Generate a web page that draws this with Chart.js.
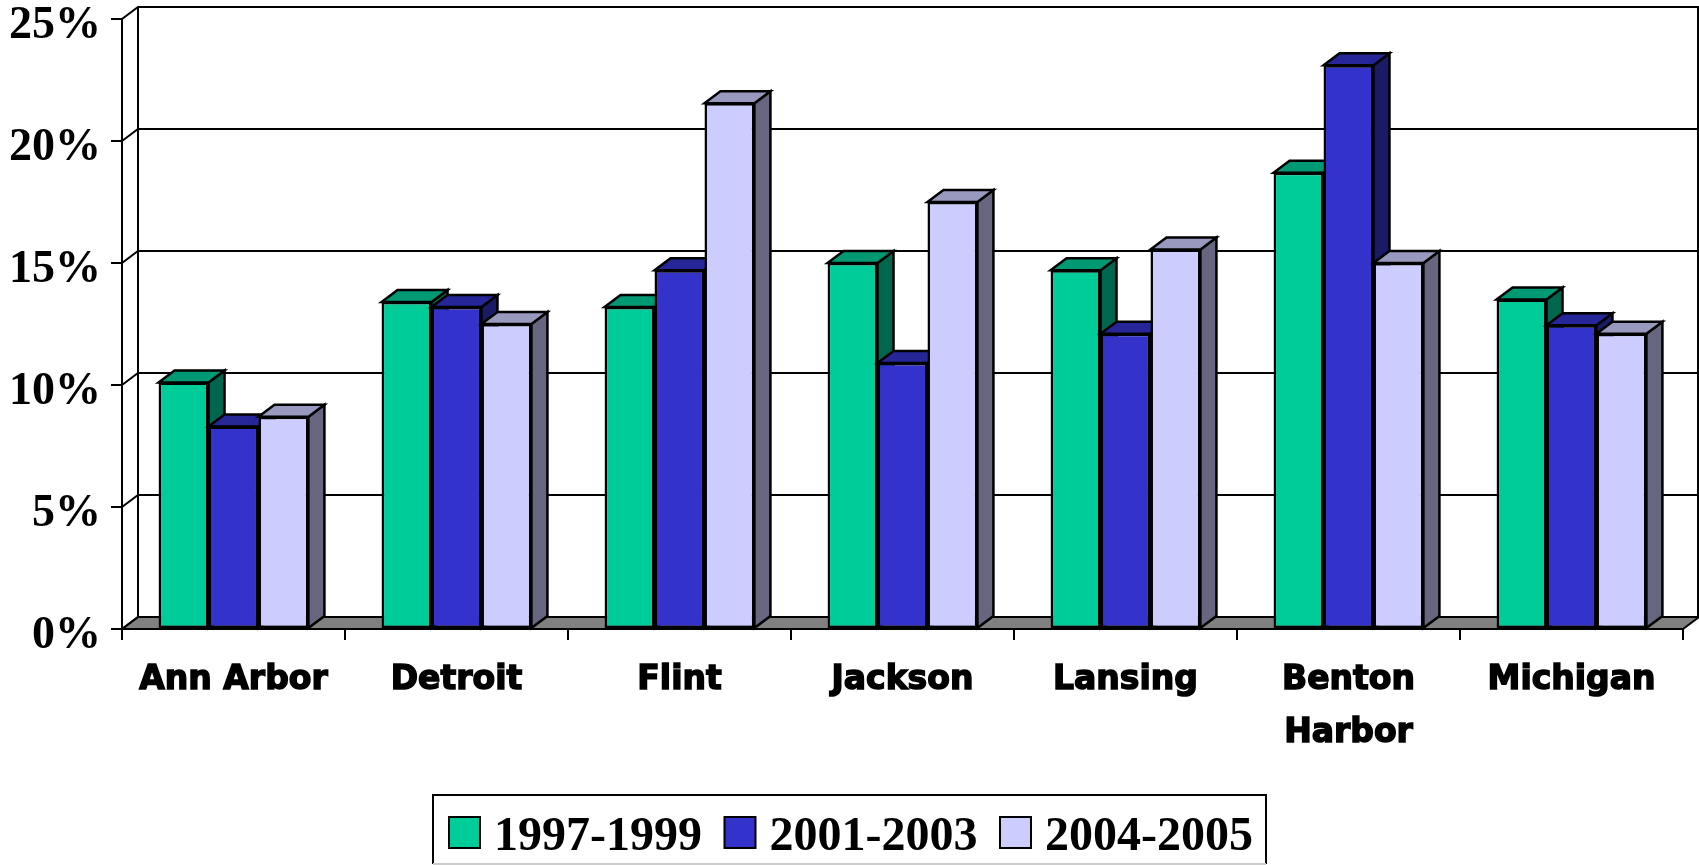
<!DOCTYPE html>
<html>
<head>
<meta charset="utf-8">
<title>Chart</title>
<script src="https://cdn.jsdelivr.net/npm/chart.js@4"></script>
<style>
    html, body { margin: 0; padding: 0; background: #fff; overflow: hidden; }
    canvas { display: block; }
</style>
</head>
<body>
<canvas id="chart" width="1699" height="865"></canvas>
<script>
let categories = ['Ann Arbor', 'Detroit', 'Flint', 'Jackson', 'Lansing', ['Benton', 'Harbor'], 'Michigan'];
let seriesNames = ['1997-1999', '2001-2003', '2004-2005'];
let values1997 = [10.1, 13.4, 13.2, 15.0, 14.7, 18.7, 13.5];
let values2001 = [8.3, 13.2, 14.7, 10.9, 12.1, 23.1, 12.45];
let values2004 = [8.7, 12.5, 21.55, 17.5, 15.55, 15.0, 12.1];
let frontColors = ['#00CC99', '#3333CC', '#CCCCFF'];
let topColors = ['#009973', '#262699', '#9999BF'];
let sideColors = ['#00664D', '#1A1A66', '#666680'];

// how far the back wall sits behind the front plane
let depthX = 16;
let depthY = 12;

function face(ctx, points, fill) {
    ctx.beginPath();
    ctx.moveTo(points[0][0], points[0][1]);
    for (let i = 1; i < points.length; i++) {
        ctx.lineTo(points[i][0], points[i][1]);
    }
    ctx.closePath();
    if (fill) {
        ctx.fillStyle = fill;
        ctx.fill();
    }
    ctx.stroke();
}

let wallPlugin = {
    id: 'wall',
    beforeDraw(chart) {
        let ctx = chart.ctx;
        let area = chart.chartArea;
        let yScale = chart.scales.y;
        ctx.save();
        ctx.strokeStyle = '#000';
        ctx.lineWidth = 2;
        ctx.lineJoin = 'miter';
        // floor
        face(ctx, [[area.left, area.bottom], [area.left + depthX, area.bottom - depthY],
            [area.right + depthX, area.bottom - depthY], [area.right, area.bottom]], '#808080');
        // grid lines on the back wall + the small diagonals on the left wall
        yScale.ticks.forEach(function (tick) {
            let y = yScale.getPixelForValue(tick.value);
            ctx.beginPath();
            ctx.moveTo(area.left, y);
            ctx.lineTo(area.left + depthX, y - depthY);
            ctx.lineTo(area.right + depthX, y - depthY);
            ctx.stroke();
        });
        ctx.beginPath();
        ctx.moveTo(area.left + depthX, area.bottom - depthY);
        ctx.lineTo(area.left + depthX, area.top - depthY);
        ctx.moveTo(area.right + depthX - 1, area.bottom - depthY);
        ctx.lineTo(area.right + depthX - 1, area.top - depthY);
        ctx.stroke();
        ctx.restore();
    }
};

let boxesPlugin = {
    id: 'boxes',
    // datasets are painted left to right below, so the default (reversed) pass is skipped
    beforeDatasetDraw() {
        return false;
    },
    afterDatasetsDraw(chart) {
        let ctx = chart.ctx;
        chart.data.datasets.forEach(function (dataset, d) {
            chart.getDatasetMeta(d).data.forEach(function (bar) {
                let left = bar.x - bar.width / 2;
                let right = bar.x + bar.width / 2;
                ctx.save();
                ctx.strokeStyle = '#000';
                ctx.lineWidth = 2.5;
                face(ctx, [[right, bar.y], [right + depthX, bar.y - depthY],
                    [right + depthX, bar.base - depthY], [right, bar.base]], sideColors[d]);
                face(ctx, [[left, bar.y], [left + depthX, bar.y - depthY],
                    [right + depthX, bar.y - depthY], [right, bar.y]], topColors[d]);
                ctx.restore();
                bar.draw(ctx);
            });
        });
    }
};

let legendPlugin = {
    id: 'legendFrame',
    afterDraw(chart) {
        let ctx = chart.ctx;
        ctx.save();
        ctx.strokeStyle = '#000';
        ctx.lineWidth = 2;
        ctx.beginPath();
        ctx.moveTo(433, 864);
        ctx.lineTo(433, 795);
        ctx.lineTo(1266, 795);
        ctx.lineTo(1266, 864);
        ctx.stroke();
        ctx.strokeStyle = '#ccc';
        ctx.beginPath();
        ctx.moveTo(433, 864);
        ctx.lineTo(1266, 864);
        ctx.stroke();
        ctx.font = 'bold 48px "Liberation Serif"';
        ctx.textBaseline = 'alphabetic';
        seriesNames.forEach(function (name, i) {
            let x = 449 + i * 275.5;
            ctx.strokeStyle = '#000';
            ctx.fillStyle = frontColors[i];
            ctx.fillRect(x, 817, 31, 31);
            ctx.strokeRect(x, 817, 31, 31);
            ctx.fillStyle = '#000';
            ctx.fillText(name, x + 45, 850);
        });
        ctx.restore();
    }
};

new Chart(document.getElementById('chart'), {
    type: 'bar',
    data: {
        labels: categories,
        datasets: [values1997, values2001, values2004].map(function (values, i) {
            return {
                label: seriesNames[i],
                data: values,
                backgroundColor: frontColors[i],
                borderColor: '#000',
                borderWidth: 2.5,
                borderSkipped: false,
                categoryPercentage: 0.672,
                barPercentage: 1
            };
        })
    },
    options: {
        responsive: false,
        animation: false,
        layout: { padding: { top: 19, right: 16, left: 0, bottom: 0 } },
        plugins: { legend: { display: false }, tooltip: { enabled: false } },
        scales: {
            x: {
                afterFit(scale) {
                    scale.height = 236;
                    scale.paddingLeft = 0;
                    scale.paddingRight = 0;
                },
                grid: { color: '#000', lineWidth: 2, drawOnChartArea: false, tickLength: 11 },
                border: { color: '#000', width: 2 },
                ticks: {
                    color: '#000',
                    autoSkip: false,
                    maxRotation: 0,
                    minRotation: 0,
                    padding: 14,
                    textStrokeColor: '#000',
                    textStrokeWidth: 1.5,
                    font: { family: '"DejaVu Sans"', weight: 'bold', size: 33, lineHeight: 1.6 }
                }
            },
            y: {
                min: 0,
                max: 25,
                afterFit(scale) {
                    scale.width = 122;
                    scale.paddingTop = 0;
                    scale.paddingBottom = 0;
                },
                grid: { color: '#000', lineWidth: 2, drawOnChartArea: false, tickLength: 11 },
                border: { color: '#000', width: 2 },
                ticks: {
                    color: '#000',
                    stepSize: 5,
                    padding: 10,
                    labelOffset: 7,
                    font: { family: '"Liberation Serif"', weight: 'bold', size: 46 },
                    callback: function (value) {
                        return value + '%';
                    }
                }
            }
        }
    },
    plugins: [wallPlugin, boxesPlugin, legendPlugin]
});
</script>
</body>
</html>
